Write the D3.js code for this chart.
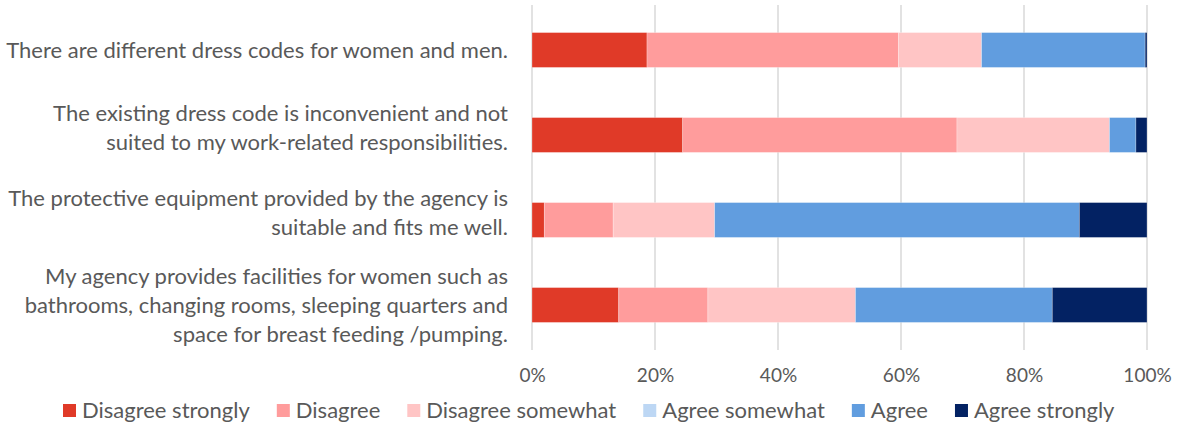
<!DOCTYPE html>
<html>
<head>
<meta charset="utf-8">
<script src="https://cdn.jsdelivr.net/npm/d3@7/dist/d3.min.js"></script>
<style>
  html, body { margin: 0; padding: 0; background: #ffffff; }
  svg { display: block; font-family: Lato, "Open Sans", sans-serif; }
</style>
</head>
<body>
<svg id="chart" width="1185" height="430"></svg>
<script>
// Survey statements, each split into its printed lines
const statements = [
  ["There are different dress codes for women and men."],
  ["The existing dress code is inconvenient and not", "suited to my work-related responsibilities."],
  ["The protective equipment provided by the agency is", "suitable and fits me well."],
  ["My agency provides facilities for women such as", "bathrooms, changing rooms, sleeping quarters and", "space for breast feeding /pumping."]
];

const responses = ["Disagree strongly", "Disagree", "Disagree somewhat", "Agree somewhat", "Agree", "Agree strongly"];

// Share of respondents (%) per response, one entry per statement
const disagreeStrongly = [18.7, 24.5, 2.0, 14.1];
const disagree         = [40.9, 44.6, 11.2, 14.5];
const disagreeSomewhat = [13.5, 24.8, 16.5, 24.0];
const agreeSomewhat    = [0.0, 0.0, 0.0, 0.0];
const agree            = [26.6, 4.3, 59.3, 32.0];
const agreeStrongly    = [0.3, 1.8, 11.0, 15.4];

const tickValues = [0, 20, 40, 60, 80, 100];

const colors = ["#e03a28", "#ff9c9c", "#ffc5c5", "#bdd7f4", "#619ddf", "#032263"];

const seriesValues = [disagreeStrongly, disagree, disagreeSomewhat, agreeSomewhat, agree, agreeStrongly];

const rows = statements.map((s, i) => {
  const r = { key: i };
  responses.forEach((name, j) => { r[name] = seriesValues[j][i]; });
  return r;
});

const svg = d3.select("#chart");
const textColor = "#595959";

const x = d3.scaleLinear().domain([0, 100]).range([532, 1147]);
const y = d3.scaleBand().domain(d3.range(statements.length)).range([7.5, 347.5]).paddingInner(0.59).paddingOuter(0.295);

// vertical gridlines
svg.append("g")
  .selectAll("line")
  .data(tickValues)
  .join("line")
  .attr("x1", d => x(d)).attr("x2", d => x(d))
  .attr("y1", 5).attr("y2", 350)
  .attr("stroke", "#d9d9d9")
  .attr("stroke-width", 1.5);

// stacked bars
const stacked = d3.stack().keys(responses)(rows);
svg.append("g")
  .selectAll("g")
  .data(stacked)
  .join("g")
  .attr("fill", (d, i) => colors[i])
  .selectAll("rect")
  .data(d => d)
  .join("rect")
  .attr("x", d => x(d[0]))
  .attr("y", (d, i) => y(i))
  .attr("width", d => Math.max(0, x(d[1]) - x(d[0])))
  .attr("height", y.bandwidth())
  .attr("stroke", "#ffffff")
  .attr("stroke-opacity", 0.35)
  .attr("stroke-width", 0.75);

// x axis tick labels
const xAxis = d3.axisBottom(x).tickValues(tickValues).tickFormat(d => d + "%").tickSize(0).tickPadding(0);
const gx = svg.append("g").attr("transform", "translate(0,368)").call(xAxis);
gx.select(".domain").remove();
gx.selectAll("text").attr("fill", textColor).style("font-size", "19px").style("font-family", "Lato, sans-serif");

// statement labels, right-aligned against the plot
const lineH = 29;
const twoLineLift = 7;   // two-line labels sit a little above the bar centre
const labels = svg.append("g");
statements.forEach((lines, i) => {
  const cy = y(i) + y.bandwidth() / 2 - (lines.length === 2 ? twoLineLift : 0);
  const t = labels.append("text")
    .attr("text-anchor", "end")
    .attr("fill", textColor)
    .style("font-size", "22px");
  lines.forEach((ln, k) => {
    t.append("tspan")
      .attr("x", 508)
      .attr("y", cy + (k - (lines.length - 1) / 2) * lineH)
      .attr("dy", "0.35em")
      .text(ln);
  });
});

// legend: swatch + label, laid out left to right
const swatch = 13, swatchGap = 6, itemGap = 27;
const legend = svg.append("g").attr("transform", "translate(63,410.5)");
let cursor = 0;
responses.forEach((name, i) => {
  const g = legend.append("g").attr("transform", `translate(${cursor},0)`);
  g.append("rect")
    .attr("x", 0).attr("y", -swatch / 2)
    .attr("width", swatch).attr("height", swatch)
    .attr("fill", colors[i]);
  const t = g.append("text")
    .attr("x", swatch + swatchGap)
    .attr("dy", "0.35em")
    .attr("fill", textColor)
    .style("font-size", "22px")
    .text(name);
  cursor += swatch + swatchGap + t.node().getComputedTextLength() + itemGap;
});
</script>
</body>
</html>
